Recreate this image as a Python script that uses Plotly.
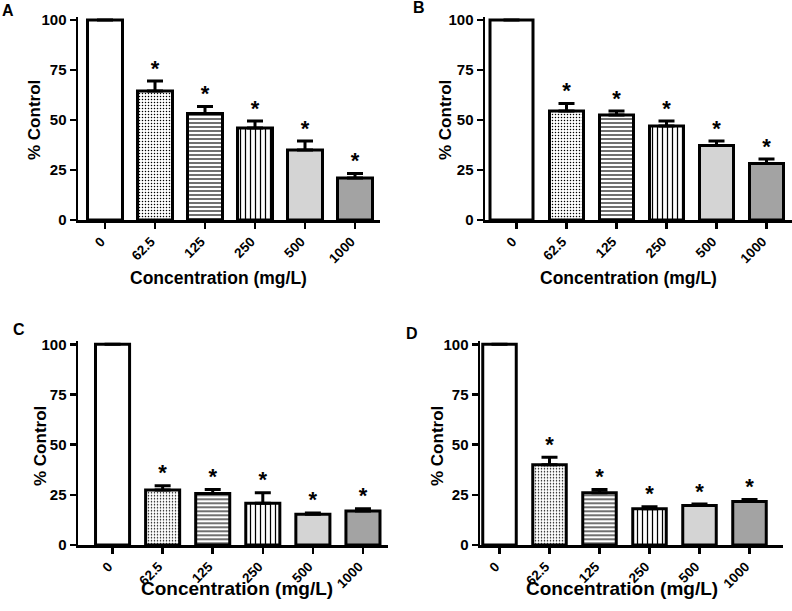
import plotly.graph_objects as go

W, H = 792, 611

categories = ["0", "62.5", "125", "250", "500", "1000"]
panel_letters = ["A", "B", "C", "D"]

a_vals = [100, 64.5, 53.3, 46.0, 35.0, 21.0]
a_err = [0, 5.0, 3.4, 3.5, 4.5, 2.3]
b_vals = [100, 54.5, 52.5, 47.0, 37.3, 28.3]
b_err = [0, 3.8, 2.0, 2.5, 2.2, 2.2]
c_vals = [100, 27.4, 25.7, 20.8, 15.3, 17.0]
c_err = [0, 2.1, 2.0, 5.2, 0.7, 1.0]
d_vals = [100, 40.0, 26.0, 18.0, 19.7, 21.7]
d_err = [0, 3.7, 1.7, 1.0, 0.7, 1.0]

y_ticks = [0, 25, 50, 75, 100]
y_title = "% Control"
x_title = "Concentration (mg/L)"

fill_colors = ["white", "white", "white", "white", "#d4d4d4", "#a3a3a3"]
pattern_shapes = ["", ".", "-", "|", "", ""]
pattern_sizes = [4, 3, 4, 5, 4, 4]
pattern_solid = [0.3, 0.2, 0.28, 0.25, 0.3, 0.3]

FONT = "Liberation Sans, Arial, sans-serif"


def px_x(p):
    return p / W


def px_y(p):
    return 1 - p / H


panels = [
    dict(vals=a_vals, err=a_err, xpx=(78, 380), y0=220, ppu=2.0, xr=[-0.54, 5.5],
         width=[0.7] * 6, offset=None,
         letter=(8, 10), ytitle=(35, 120), xtitle=(218, 278), xtsize=17.5),
    dict(vals=b_vals, err=b_err, xpx=(485, 792), y0=220, ppu=2.0, xr=[-0.63, 5.51],
         width=[0.86, 0.68, 0.68, 0.68, 0.68, 0.68],
         offset=[-0.53, -0.34, -0.34, -0.34, -0.34, -0.34],
         letter=(419, 8), ytitle=(446, 120), xtitle=(628, 278), xtsize=17.5),
    dict(vals=c_vals, err=c_err, xpx=(78, 388), y0=545, ppu=2.007, xr=[-0.69, 5.5],
         width=[0.68] * 6, offset=None,
         letter=(19, 329), ytitle=(40, 446), xtitle=(237, 588), xtsize=19),
    dict(vals=d_vals, err=d_err, xpx=(480, 783), y0=545, ppu=2.007, xr=[-0.39, 5.67],
         width=[0.67] * 6, offset=None,
         letter=(412, 333), ytitle=(437, 446), xtitle=(622, 588), xtsize=19),
]

YMAX = 101.5

fig = go.Figure()
annotations = []
layout_axes = {}

for i, p in enumerate(panels):
    n = i + 1
    xa = "x" if n == 1 else f"x{n}"
    ya = "y" if n == 1 else f"y{n}"
    xs = list(range(len(categories)))
    for j in xs:
        marker = dict(color=fill_colors[j], line=dict(color="black", width=3))
        if pattern_shapes[j]:
            marker["pattern"] = dict(shape=pattern_shapes[j], size=pattern_sizes[j],
                                     solidity=pattern_solid[j], fgcolor="black",
                                     bgcolor=fill_colors[j], fillmode="replace")
        bar_kw = dict(
            x=[j], y=[p["vals"][j]], width=[p["width"][j]], marker=marker,
            error_y=dict(type="data", symmetric=False, array=[p["err"][j]],
                         arrayminus=[0], color="black", thickness=3, width=8),
            xaxis=xa, yaxis=ya, showlegend=False, hoverinfo="skip",
        )
        if p["offset"] is not None:
            bar_kw["offset"] = [p["offset"][j]]
        fig.add_trace(go.Bar(**bar_kw))

    star_x = xs[1:]
    star_y = [v + e for v, e in zip(p["vals"][1:], p["err"][1:])]
    fig.add_trace(go.Scatter(
        x=star_x, y=star_y, mode="text", text=["*"] * len(star_x),
        textposition="top center",
        textfont=dict(family=FONT, size=22, color="black", weight="bold"),
        xaxis=xa, yaxis=ya, showlegend=False, hoverinfo="skip",
        cliponaxis=False,
    ))

    x0, x1 = p["xpx"]
    ytop_px = p["y0"] - YMAX * p["ppu"]
    xkey = "xaxis" if n == 1 else f"xaxis{n}"
    ykey = "yaxis" if n == 1 else f"yaxis{n}"
    layout_axes[xkey] = dict(
        domain=[px_x(x0), px_x(x1)], range=p["xr"], anchor=ya, automargin=False,
        tickmode="array", tickvals=xs, ticktext=categories, tickangle=-45,
        ticklabelshift=-4,
        showline=True, linecolor="black", linewidth=2.5,
        ticks="outside", ticklen=6, tickwidth=2.5, tickcolor="black",
        showgrid=False, zeroline=False, fixedrange=True,
        tickfont=dict(family=FONT, size=13.5, color="black", weight="bold"),
    )
    layout_axes[ykey] = dict(
        domain=[px_y(p["y0"]), px_y(ytop_px)], range=[0, YMAX], anchor=xa,
        automargin=False,
        tickmode="array", tickvals=y_ticks,
        showline=True, linecolor="black", linewidth=2.5,
        ticks="outside", ticklen=6, tickwidth=2.5, tickcolor="black",
        showgrid=False, zeroline=False, fixedrange=True,
        tickfont=dict(family=FONT, size=15, color="black", weight="bold"),
    )

    lx, ly = p["letter"]
    annotations.append(dict(
        text=panel_letters[i], x=px_x(lx), y=px_y(ly), xref="paper", yref="paper",
        xanchor="center", yanchor="middle", showarrow=False,
        font=dict(family=FONT, size=16, color="black", weight="bold"),
    ))
    tx, ty = p["ytitle"]
    annotations.append(dict(
        text=y_title, x=px_x(tx), y=px_y(ty), xref="paper", yref="paper",
        xanchor="center", yanchor="middle", showarrow=False, textangle=-90,
        font=dict(family=FONT, size=17, color="black", weight="bold"),
    ))
    cx, cy = p["xtitle"]
    annotations.append(dict(
        text=x_title, x=px_x(cx), y=px_y(cy), xref="paper", yref="paper",
        xanchor="center", yanchor="middle", showarrow=False,
        font=dict(family=FONT, size=p["xtsize"], color="black", weight="bold"),
    ))

fig.update_layout(
    width=W, height=H,
    margin=dict(l=0, r=0, t=0, b=0, autoexpand=False),
    paper_bgcolor="white", plot_bgcolor="white",
    barmode="overlay",
    annotations=annotations,
    font=dict(family=FONT, color="black"),
    **layout_axes,
)

fig.write_html("out.html",
               config={"displayModeBar": False, "staticPlot": True},
               post_script="document.body.style.margin='0px';"
                           "document.body.style.overflow='hidden';")
